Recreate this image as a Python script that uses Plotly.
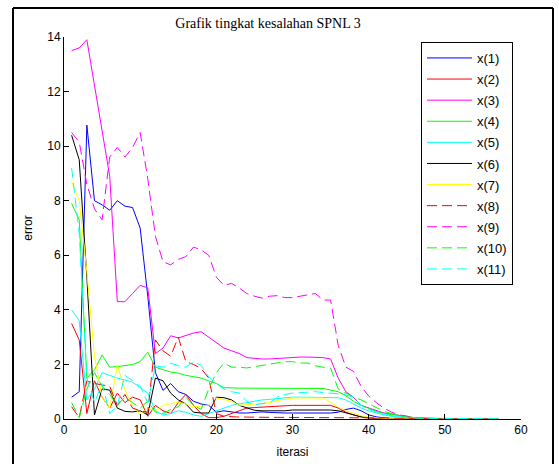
import plotly.graph_objects as go

iterations = list(range(1, 58))

x1 = [0.8, 1.0, 10.77, 8.0, 7.85, 7.65, 8.0, 7.8, 7.75, 7.0,
      4.5, 1.7, 1.05, 1.3, 1.0, 0.9, 0.65, 0.55, 0.5, 0.25,
      0.3, 0.25, 0.22, 0.22, 0.24, 0.26, 0.24, 0.22, 0.22, 0.22,
      0.22, 0.22, 0.22, 0.22, 0.22, 0.25, 0.35, 0.4, 0.3, 0.15,
      0.08, 0.04, 0.02, 0.01, 0.01, 0.01, 0.0, 0.0, 0.0, 0.0,
      0.0, 0.0, 0.0, 0.0, 0.0, 0.0, 0.0]
x2 = [3.5, 2.9, 0.2, 1.4, 0.8, 0.4, 0.95, 0.6, 0.8, 0.7,
      0.1, 0.5, 0.3, 0.2, 0.6, 0.9, 0.5, 0.2, 0.05, 0.05,
      0.1, 0.2, 0.3, 0.4, 0.42, 0.44, 0.45, 0.47, 0.5, 0.5,
      0.5, 0.5, 0.5, 0.5, 0.5, 0.4, 0.25, 0.15, 0.08, 0.04,
      0.02, 0.01, 0.01, 0.0, 0.0, 0.0, 0.0, 0.0, 0.0, 0.0,
      0.0, 0.0, 0.0, 0.0, 0.0, 0.0, 0.0]
x3 = [13.5, 13.6, 13.9, 12.2, 10.5, 8.9, 4.3, 4.3, 4.6, 4.9,
      4.8, 2.4, 2.6, 3.05, 2.97, 3.05, 3.15, 3.2, 3.0, 2.8,
      2.6, 2.5, 2.4, 2.25, 2.22, 2.2, 2.2, 2.22, 2.23, 2.25,
      2.27, 2.27, 2.27, 2.25, 2.2, 1.5, 1.0, 0.8, 0.5, 0.4,
      0.3, 0.22, 0.18, 0.12, 0.08, 0.05, 0.03, 0.02, 0.01, 0.01,
      0.0, 0.0, 0.0, 0.0, 0.0, 0.0, 0.0]
x4 = [7.9, 7.3, 1.5, 1.8, 2.35, 1.9, 1.92, 1.95, 2.0, 2.1,
      2.45, 1.9, 1.8, 1.72, 1.68, 1.6, 1.55, 1.5, 1.4, 1.3,
      1.15, 1.13, 1.13, 1.13, 1.13, 1.13, 1.13, 1.13, 1.12, 1.12,
      1.12, 1.12, 1.12, 1.12, 1.06, 1.0, 0.85, 0.65, 0.5, 0.38,
      0.28, 0.2, 0.17, 0.15, 0.1, 0.05, 0.03, 0.02, 0.01, 0.01,
      0.0, 0.0, 0.0, 0.0, 0.0, 0.0, 0.0]
x5 = [4.0, 3.6, 0.7, 1.1, 1.7, 1.6, 1.5, 1.43, 1.35, 1.15,
      0.95, 0.3, 0.15, 0.2, 0.3, 0.25, 0.15, 0.1, 0.2, 0.3,
      0.4, 0.5, 0.55, 0.6, 0.65, 0.7, 0.72, 0.75, 0.78, 0.8,
      0.8, 0.8, 0.8, 0.8, 0.8, 0.78, 0.7, 0.55, 0.4, 0.3,
      0.22, 0.15, 0.1, 0.07, 0.05, 0.04, 0.03, 0.03, 0.02, 0.02,
      0.02, 0.01, 0.01, 0.01, 0.01, 0.01, 0.01]
x6 = [10.4, 9.5, 5.2, 0.15, 1.1, 1.06, 0.4, 0.28, 0.26, 0.3,
      0.15, 1.5, 1.4, 0.95, 0.7, 0.55, 0.25, 0.22, 0.22, 0.8,
      0.78, 0.7, 0.5, 0.4, 0.32, 0.3, 0.3, 0.3, 0.3, 0.33,
      0.33, 0.33, 0.33, 0.33, 0.33, 0.3, 0.22, 0.15, 0.08, 0.05,
      0.03, 0.02, 0.01, 0.0, 0.0, 0.0, 0.0, 0.0, 0.0, 0.0,
      0.0, 0.0, 0.0, 0.0, 0.0, 0.0, 0.0]
x7 = [8.7, 8.0, 5.4, 2.3, 0.8, 0.4, 1.97, 1.06, 0.5, 0.15,
      0.4, 0.3, 0.5, 0.55, 0.62, 0.55, 0.44, 0.48, 0.51, 0.77,
      0.72, 0.65, 0.5, 0.52, 0.55, 0.57, 0.6, 0.68, 0.72, 0.77,
      0.77, 0.77, 0.77, 0.77, 0.62, 0.44, 0.3, 0.2, 0.12, 0.07,
      0.04, 0.02, 0.01, 0.0, 0.0, 0.0, 0.0, 0.0, 0.0, 0.0,
      0.0, 0.0, 0.0, 0.0, 0.0, 0.0, 0.0]
x8 = [0.45, 0.05, 1.4, 1.3, 1.25, 1.2, 0.5, 0.9, 0.4, 0.3,
      0.25, 2.9, 2.5, 2.3, 3.0, 2.1, 2.0, 1.85, 1.5, 0.2,
      0.1, 0.08, 0.07, 0.07, 0.06, 0.06, 0.06, 0.06, 0.06, 0.06,
      0.06, 0.06, 0.06, 0.06, 0.06, 0.06, 0.06, 0.06, 0.05, 0.05,
      0.04, 0.04, 0.03, 0.03, 0.02, 0.02, 0.01, 0.01, 0.01, 0.0,
      0.0, 0.0, 0.0, 0.0, 0.0, 0.0, 0.0]
x9 = [10.5, 10.15, 8.6, 7.7, 7.3, 9.6, 9.95, 9.6, 9.95, 10.5,
      8.8, 6.7, 5.76, 5.65, 5.85, 5.95, 6.3, 6.2, 6.0, 5.2,
      4.9, 4.97, 4.8, 4.6, 4.5, 4.43, 4.5, 4.52, 4.45, 4.45,
      4.5, 4.55, 4.6, 4.36, 4.36, 2.7, 1.9, 1.75, 1.2, 0.84,
      0.6, 0.4, 0.25, 0.15, 0.1, 0.06, 0.03, 0.02, 0.01, 0.01,
      0.0, 0.0, 0.0, 0.0, 0.0, 0.0, 0.0]
x10 = [0.6, 0.05, 1.1, 1.7, 1.2, 0.9, 0.5, 0.8, 0.6, 0.4,
       0.65, 0.25, 0.2, 0.35, 0.45, 0.8, 0.5, 0.35, 1.1, 1.7,
       2.05, 1.9, 1.9, 1.87, 1.92, 1.97, 2.02, 2.05, 2.1, 2.1,
       2.05, 2.05, 1.95, 1.9, 1.87, 1.1, 0.95, 0.8, 0.7, 0.55,
       0.4, 0.28, 0.2, 0.12, 0.07, 0.04, 0.02, 0.01, 0.01, 0.0,
       0.0, 0.0, 0.0, 0.0, 0.0, 0.0, 0.0]
x11 = [9.2, 6.8, 1.5, 0.6, 1.3, 0.2, 0.5, 1.6, 1.4, 1.2,
       0.6, 1.95, 1.9, 2.05, 1.95, 1.9, 2.1, 1.97, 1.55, 1.3,
       1.1, 1.0, 0.95, 0.65, 0.52, 0.55, 0.6, 0.8, 0.9, 0.95,
       0.97, 1.0, 1.0, 0.97, 0.95, 0.92, 0.88, 0.8, 0.5, 0.35,
       0.25, 0.18, 0.12, 0.08, 0.05, 0.04, 0.03, 0.03, 0.02, 0.02,
       0.02, 0.02, 0.01, 0.01, 0.01, 0.01, 0.01]

series = [x1, x2, x3, x4, x5, x6, x7, x8, x9, x10, x11]
names = ["x(1)", "x(2)", "x(3)", "x(4)", "x(5)", "x(6)", "x(7)",
         "x(8)", "x(9)", "x(10)", "x(11)"]
colors = ["#0000FF", "#FF0000", "#FF00FF", "#00FF00", "#00FFFF", "#000000",
          "#FFFF00", "#FF0000", "#FF00FF", "#00FF00", "#00FFFF"]
dashes = ["solid"] * 7 + ["10px,5px"] * 4

fig = go.Figure()
for ys, nm, c, d in zip(series, names, colors, dashes):
    fig.add_trace(go.Scatter(x=iterations, y=ys, mode="lines", name=nm,
                             legendgroup=nm,
                             line=dict(color=c, width=1, dash=d)))

axis_font = dict(family="Liberation Sans, Arial, sans-serif", size=12, color="black")

# plot area: x 64..521 px, y 37..419 px
L, R, T, B = 64, 521, 37, 419
W, H = 559, 464

def px_x(p):
    return (p - L) / (R - L)

def px_y(p):
    return (B - p) / (B - T)

fig.update_layout(
    width=W, height=H,
    margin=dict(l=L, r=W - R, t=T, b=H - B, autoexpand=False),
    paper_bgcolor="white", plot_bgcolor="white",
    showlegend=True,
    title=dict(text="Grafik tingkat kesalahan SPNL 3",
               font=dict(family="Liberation Serif, Times New Roman, serif", size=14, color="black"),
               xref="paper", x=px_x(268), xanchor="center",
               yref="container", y=1 - 23 / H, yanchor="middle"),
    xaxis=dict(range=[0, 60], tickmode="array", tickvals=[0, 10, 20, 30, 40, 50, 60],
               ticks="inside", ticklen=5, tickcolor="black", showline=True,
               linecolor="black", linewidth=1, showgrid=False, zeroline=False,
               tickfont=axis_font, automargin=False,
               title=dict(text="iterasi", font=axis_font, standoff=11)),
    yaxis=dict(range=[0, 14], tickmode="array", tickvals=[0, 2, 4, 6, 8, 10, 12, 14],
               ticks="inside", ticklen=5, tickcolor="black", showline=True,
               linecolor="black", linewidth=1, showgrid=False, zeroline=False,
               tickfont=axis_font, automargin=False,
               title=dict(text="error", font=axis_font, standoff=12)),
    legend=dict(x=px_x(421), y=px_y(42), xanchor="left", yanchor="top",
                bgcolor="white", bordercolor="black", borderwidth=1,
                font=dict(family="Liberation Sans, Arial, sans-serif", size=13, color="black"),
                itemwidth=45, tracegroupgap=1.2),
    shapes=[
        dict(type="line", xref="paper", yref="paper", x0=px_x(13), x1=px_x(13),
             y0=px_y(8), y1=px_y(470), line=dict(color="black", width=2)),
        dict(type="line", xref="paper", yref="paper", x0=px_x(13), x1=px_x(553),
             y0=px_y(8), y1=px_y(8), line=dict(color="black", width=2)),
        dict(type="line", xref="paper", yref="paper", x0=px_x(553), x1=px_x(553),
             y0=px_y(8), y1=px_y(470), line=dict(color="black", width=2)),
    ],
)

fig.write_html("out.html")
